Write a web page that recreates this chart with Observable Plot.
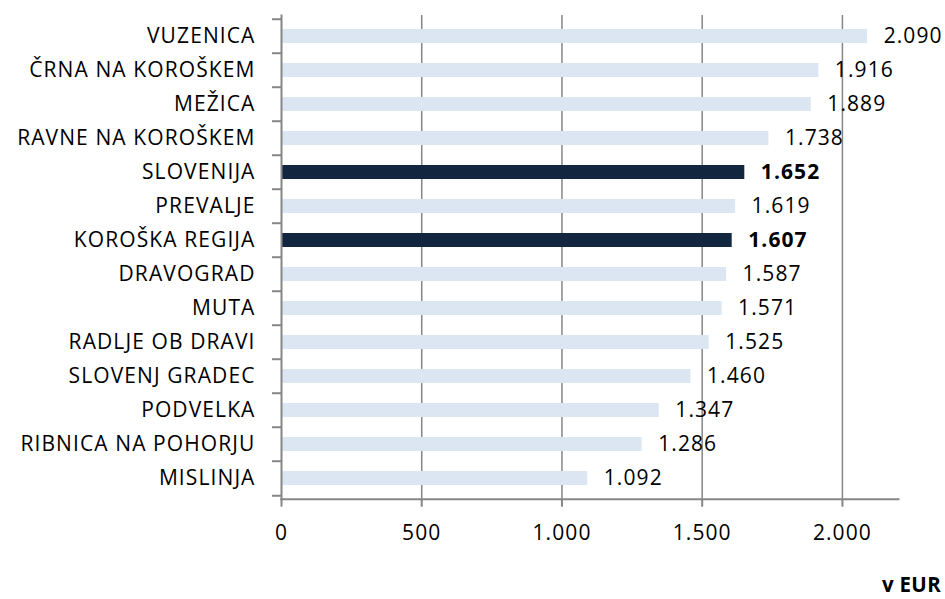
<!DOCTYPE html>
<html>
<head>
<meta charset="utf-8">
<script src="https://cdn.jsdelivr.net/npm/d3@7"></script>
<script src="https://cdn.jsdelivr.net/npm/@observablehq/plot@0.6"></script>
<style>
  html, body { margin: 0; padding: 0; background: #fff; }
  #wrap { position: relative; width: 945px; height: 599px; font-family: "Open Sans", sans-serif; overflow: hidden; }
  #caption { position: absolute; right: 4px; top: 572px; font-weight: bold; font-size: 20.5px; color: #000; line-height: 1.2; letter-spacing: 0.3px; }
</style>
</head>
<body>
<div id="wrap"><div id="chart"></div><div id="caption">v EUR</div></div>
<script>
const categories = ["VUZENICA", "ČRNA NA KOROŠKEM", "MEŽICA", "RAVNE NA KOROŠKEM", "SLOVENIJA", "PREVALJE", "KOROŠKA REGIJA", "DRAVOGRAD", "MUTA", "RADLJE OB DRAVI", "SLOVENJ GRADEC", "PODVELKA", "RIBNICA NA POHORJU", "MISLINJA"];
const values = [2090, 1916, 1889, 1738, 1652, 1619, 1607, 1587, 1571, 1525, 1460, 1347, 1286, 1092];
const highlighted = ["SLOVENIJA", "KOROŠKA REGIJA"];
const xTicks = [0, 500, 1000, 1500, 2000];
const gridTicks = [500, 1000, 1500, 2000];

const data = categories.map((c, i) => ({name: c, value: values[i], hi: highlighted.includes(c)}));
const fmt = d3.formatLocale({decimal: ",", thousands: ".", grouping: [3], currency: ["", " €"]}).format(",d");

const chartH = 560, plotTop = 15, plotBottom = 498.7;
const step = (plotBottom - plotTop) / categories.length;
const fontFam = "'Open Sans', sans-serif";
const axisColor = "#868686";
const fs = 21;

const chart = Plot.plot({
  width: 945,
  height: chartH,
  marginTop: plotTop,
  marginBottom: chartH - plotBottom,
  marginLeft: 281,
  marginRight: 47,
  style: {fontFamily: fontFam, fontSize: fs + "px", letterSpacing: "1.1px", color: "#000", background: "#fff"},
  x: {domain: [0, 2200]},
  y: {domain: categories, paddingInner: 0.595, paddingOuter: 0.2975},
  marks: [
    Plot.gridX(gridTicks, {stroke: axisColor, strokeOpacity: 1, strokeWidth: 1.5}),
    Plot.barX(data, {y: "name", x: "value", fill: d => d.hi ? "#13263f" : "#dce6f2"}),
    Plot.text(data.filter(d => !d.hi), {y: "name", x: "value", text: d => fmt(d.value), textAnchor: "start", dx: 16, fill: "#000", fontSize: fs}),
    Plot.text(data.filter(d => d.hi), {y: "name", x: "value", text: d => fmt(d.value), textAnchor: "start", dx: 16, fill: "#000", fontSize: fs, fontWeight: "bold"}),
    Plot.frame({anchor: "left", stroke: axisColor, strokeWidth: 2}),
    Plot.frame({anchor: "bottom", stroke: axisColor, strokeWidth: 2}),
    Plot.axisY({tickSize: 0, tickPadding: 26, label: null, fontSize: fs, fill: "#000"}),
    Plot.axisY({tickSize: 9, text: null, label: null, dy: -step / 2, stroke: axisColor, strokeWidth: 2}),
    Plot.axisY([categories[categories.length - 1]], {tickSize: 9, text: null, label: null, dy: step / 2, stroke: axisColor, strokeWidth: 2}),
    Plot.axisX(xTicks, {tickSize: 8, tickPadding: 18, label: null, tickFormat: fmt, stroke: axisColor, strokeWidth: 2, fontSize: fs, fill: "#000"})
  ]
});
document.getElementById("chart").appendChild(chart);
</script>
</body>
</html>
